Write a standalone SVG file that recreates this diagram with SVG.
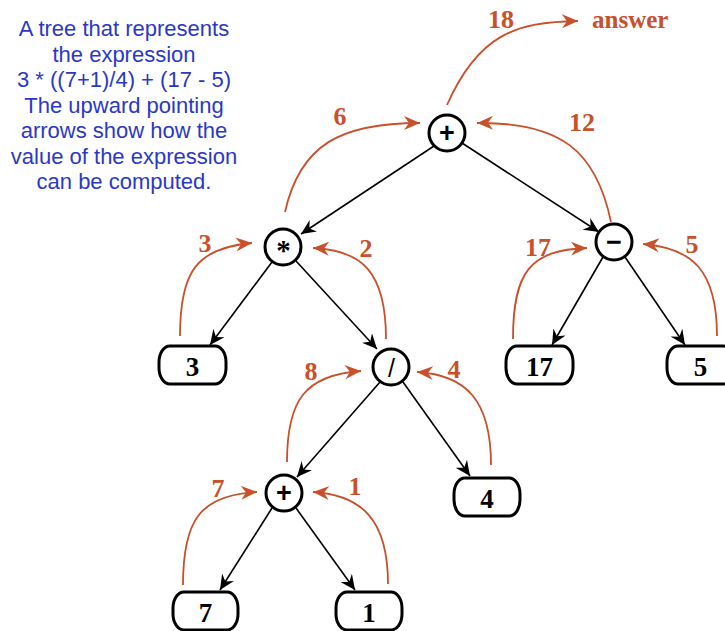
<svg xmlns="http://www.w3.org/2000/svg" width="725" height="631" viewBox="0 0 725 631">
<defs>
<marker id="ab" markerUnits="userSpaceOnUse" markerWidth="16" markerHeight="14" refX="15" refY="7" orient="auto">
<path d="M0,0 L15,7 L0,14 L5,7 Z" fill="#000"/>
</marker>
<marker id="ao" markerUnits="userSpaceOnUse" markerWidth="17" markerHeight="14" refX="16" refY="7" orient="auto">
<path d="M0,0 L16,7 L0,14 L5,7 Z" fill="#c8502a"/>
</marker>
<style>
.op{fill:#fff;stroke:#000;stroke-width:3}
.box{fill:#fff;stroke:#000;stroke-width:3}
.edge{fill:none;stroke:#000;stroke-width:1.6;marker-end:url(#ab)}
.up{fill:none;stroke:#c8502a;stroke-width:1.8;marker-end:url(#ao)}
.lbl{font-family:"Liberation Serif",serif;font-weight:bold;font-size:26px;fill:#c8502a;text-anchor:middle}
.num{font-family:"Liberation Serif",serif;font-weight:bold;font-size:27px;fill:#000;text-anchor:middle}
.sym{font-family:"Liberation Sans",sans-serif;font-weight:bold;font-size:27px;fill:#000;text-anchor:middle}
.cap{font-family:"Liberation Sans",Arial,sans-serif;font-size:22px;fill:#2a38c8;text-anchor:middle}
</style>
</defs>

<g id="caption">
<text class="cap" x="124" y="36">A tree that represents</text>
<text class="cap" x="124" y="61.5">the expression</text>
<text class="cap" x="124" y="87">3 * ((7+1)/4) + (17 - 5)</text>
<text class="cap" x="124" y="112.5">The upward pointing</text>
<text class="cap" x="124" y="138">arrows show how the</text>
<text class="cap" x="124" y="163.5">value of the expression</text>
<text class="cap" x="124" y="189">can be computed.</text>
</g>

<g id="connectors">
<line class="edge" x1="434" y1="146" x2="301" y2="234"/>
<line class="edge" x1="462" y1="143" x2="599" y2="232"/>
<line class="edge" x1="272" y1="262" x2="210" y2="345"/>
<line class="edge" x1="296" y1="261" x2="377" y2="349"/>
<line class="edge" x1="380" y1="382" x2="297" y2="477"/>
<line class="edge" x1="403" y1="382" x2="470" y2="476"/>
<line class="edge" x1="272" y1="508" x2="220" y2="590"/>
<line class="edge" x1="296" y1="508" x2="355" y2="590"/>
<line class="edge" x1="603" y1="257" x2="552" y2="345"/>
<line class="edge" x1="625" y1="257" x2="685" y2="345"/>

<path class="up" d="M447,105 C478,35 515,22 578,21"/>
<path class="up" d="M285,212 C300,145 340,123 420,123"/>
<path class="up" d="M611,222 C596,150 560,122 477,123"/>
<path class="up" d="M180,336 C180,272 196,248 252,243"/>
<path class="up" d="M386,339 C386,272 362,250 313,248"/>
<path class="up" d="M513,339 C513,272 530,250 587,248"/>
<path class="up" d="M717,336 C717,270 692,248 643,244"/>
<path class="up" d="M287,462 C287,400 305,375 361,371"/>
<path class="up" d="M491,465 C491,400 466,375 417,372"/>
<path class="up" d="M183,585 C183,520 200,495 257,492"/>
<path class="up" d="M388,584 C388,520 362,495 313,492"/>

<text class="lbl" x="501" y="28">18</text>
<text class="lbl" x="592" y="28" style="text-anchor:start;font-size:25px">answer</text>
<text class="lbl" x="340" y="125">6</text>
<text class="lbl" x="582" y="131">12</text>
<text class="lbl" x="205" y="252">3</text>
<text class="lbl" x="366" y="257">2</text>
<text class="lbl" x="538" y="256">17</text>
<text class="lbl" x="692" y="253">5</text>
<text class="lbl" x="311" y="380">8</text>
<text class="lbl" x="454" y="378">4</text>
<text class="lbl" x="218" y="497">7</text>
<text class="lbl" x="355" y="495">1</text>
</g>

<g id="n-plus-top">
<circle class="op" cx="447" cy="133" r="18"/>
<text class="sym" x="447" y="142">+</text>
</g>
<g id="n-times">
<circle class="op" cx="283" cy="247" r="18"/>
<text class="num" x="283.5" y="260" style="font-size:29px">*</text>
</g>
<g id="n-minus">
<circle class="op" cx="614" cy="242" r="18"/>
<text class="sym" x="614" y="251">−</text>
</g>
<g id="n-div">
<circle class="op" cx="391" cy="367" r="18"/>
<text class="sym" x="391.5" y="377" style="font-weight:normal;font-size:25px">/</text>
</g>
<g id="n-plus-low">
<circle class="op" cx="284" cy="493" r="18"/>
<text class="sym" x="284" y="502">+</text>
</g>

<g id="n-3">
<rect class="box" x="159" y="346" width="67" height="38" rx="11" ry="16"/>
<text class="num" x="192.5" y="376">3</text>
</g>
<g id="n-17">
<rect class="box" x="506" y="346" width="67" height="38" rx="11" ry="16"/>
<text class="num" x="539.5" y="376">17</text>
</g>
<g id="n-5">
<rect class="box" x="667" y="346" width="67" height="38" rx="11" ry="16"/>
<text class="num" x="700.5" y="376">5</text>
</g>
<g id="n-4">
<rect class="box" x="454" y="478" width="66" height="38" rx="11" ry="16"/>
<text class="num" x="487" y="508">4</text>
</g>
<g id="n-7">
<rect class="box" x="173" y="592" width="65" height="38" rx="11" ry="16"/>
<text class="num" x="205.5" y="622">7</text>
</g>
<g id="n-1">
<rect class="box" x="336" y="592" width="66" height="38" rx="11" ry="16"/>
<text class="num" x="369" y="622">1</text>
</g>
</svg>
